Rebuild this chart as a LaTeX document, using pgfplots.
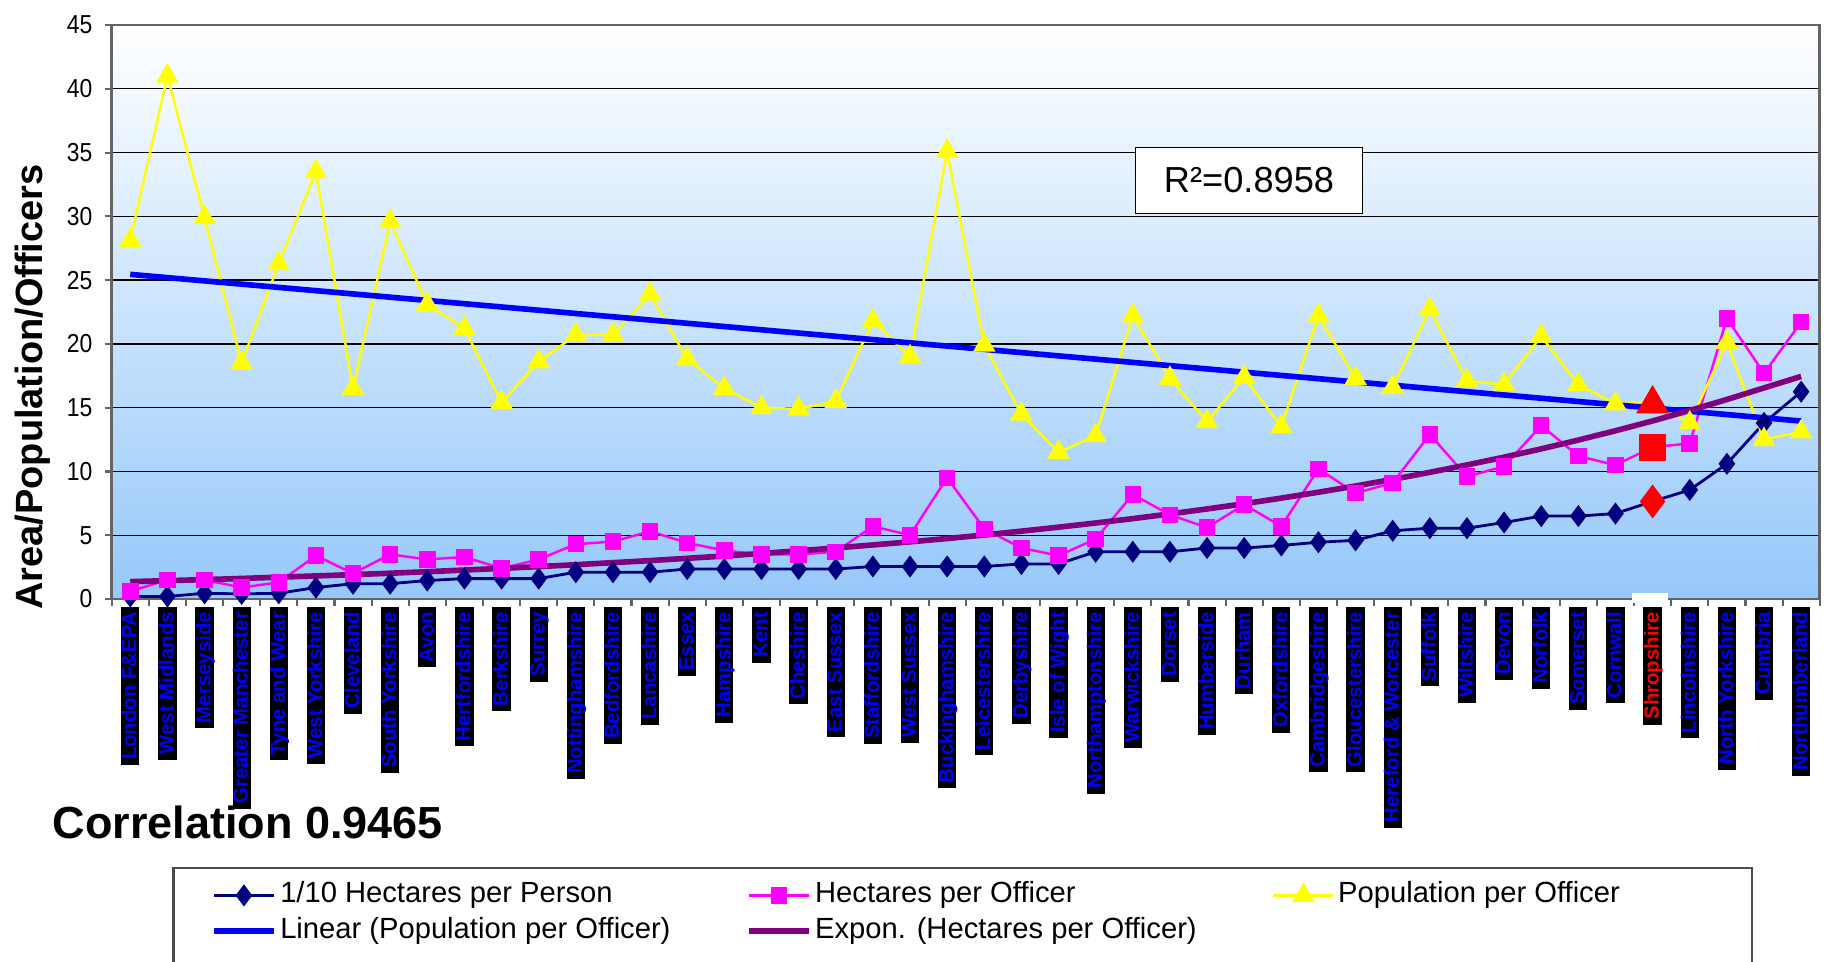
\documentclass[border=0pt]{standalone}
\usepackage{fontspec}
\setmainfont{Liberation Sans}
\newfontfamily\narrowf[FakeStretch=0.88]{Liberation Sans}
\usepackage{pgfplots}
\pgfplotsset{compat=1.18}
\definecolor{navyser}{RGB}{0,0,128}
\definecolor{magser}{RGB}{255,0,255}
\definecolor{yelser}{RGB}{255,255,0}
\definecolor{lintr}{RGB}{0,0,255}
\definecolor{exptr}{RGB}{128,0,128}
\definecolor{bgbot}{RGB}{150,200,250}
\definecolor{axgray}{RGB}{100,100,100}
\begin{document}
\begin{tikzpicture}[x=1cm,y=1cm]
\path[use as bounding box] (0,0) rectangle (18.24,9.61);
\begin{axis}[
  scale only axis, width=17.08cm, height=5.74cm,
  at={(1.117cm,3.62cm)}, anchor=south west,
  xmin=-0.5, xmax=45.5, ymin=0, ymax=45,
  axis background/.style={top color=white, bottom color=bgbot},
  ytick={0,5,...,45},
  xtick={-0.5,0.5,...,45.5},
  x tick label as interval=true,
  xticklabels={London F\&EPA,West Midlands,Merseyside,Greater Manchester,Tyne and Wear,West Yorkshire,Cleveland,South Yorkshire,Avon,Hertfordshire,Berkshire,Surrey,Nottinghamshire,Bedfordshire,Lancashire,Essex,Hampshire,Kent,Cheshire,East Sussex,Staffordshire,West Sussex,Buckinghamshire,Leicestershire,Derbyshire,Isle of Wight,Northamptonshire,Warwickshire,Dorset,Humberside,Durham,Oxfordshire,Cambridgeshire,Gloucestershire,Hereford \& Worcester,Suffolk,Wiltshire,Devon,Norfolk,Somerset,Cornwall,\textcolor{red}{Shropshire},Lincolnshire,North Yorkshire,Cumbria,Northumberland},
  xticklabel style={rotate=90, anchor=east, fill=black, text=blue,
     font=\bfseries\fontsize{5.8}{6}\selectfont, inner xsep=1.5pt, inner ysep=0pt,
     text height=4.3pt, text depth=0.9pt},
  yticklabel style={font=\narrowf\fontsize{7.4}{8}\selectfont},
  /pgf/number format/assume math mode=true,
  ymajorgrids, grid style={black, line width=0.4pt},
  axis line style={axgray, line width=0.7pt},
  tick style={axgray, line width=0.6pt},
  tick align=outside, major tick length=0.07cm,
  xtick pos=bottom, ytick pos=left,
  legend columns=3,
  legend cell align=left,
  legend style={at={(0.0578,-0.484)}, anchor=north west, draw=none, fill=none,
     inner sep=0pt, font=\fontsize{8.3}{10}\selectfont,
     nodes={inner sep=1pt, text height=6.2pt, text depth=2pt},
     /tikz/every even column/.append style={column sep=0.72cm}},
]
\addplot[navyser, line width=0.8pt, mark=diamond*, mark size=2.5pt, mark options={solid, fill=navyser}] coordinates {
(0,0.2)(1,0.2)(2,0.45)(3,0.4)(4,0.45)(5,0.9)(6,1.2)(7,1.2)(8,1.45)(9,1.6)
(10,1.6)(11,1.6)(12,2.1)(13,2.1)(14,2.1)(15,2.35)(16,2.35)(17,2.35)(18,2.35)(19,2.35)
(20,2.55)(21,2.55)(22,2.55)(23,2.55)(24,2.75)(25,2.75)(26,3.7)(27,3.7)(28,3.7)(29,4.0)
(30,4.0)(31,4.2)(32,4.45)(33,4.6)(34,5.35)(35,5.55)(36,5.55)(37,6.0)(38,6.5)(39,6.5)
(40,6.7)(41,7.65)(42,8.55)(43,10.6)(44,13.8)(45,16.25)};
\addlegendentry{1/10 Hectares per Person}
\addplot[magser, line width=0.7pt, mark=square*, mark size=2pt, mark options={solid, fill=magser}] coordinates {
(0,0.6)(1,1.5)(2,1.5)(3,0.9)(4,1.3)(5,3.4)(6,2.0)(7,3.5)(8,3.1)(9,3.3)
(10,2.4)(11,3.1)(12,4.3)(13,4.5)(14,5.3)(15,4.4)(16,3.8)(17,3.5)(18,3.5)(19,3.7)
(20,5.7)(21,5.0)(22,9.5)(23,5.5)(24,4.0)(25,3.4)(26,4.7)(27,8.2)(28,6.6)(29,5.6)
(30,7.4)(31,5.7)(32,10.2)(33,8.3)(34,9.1)(35,12.9)(36,9.6)(37,10.4)(38,13.6)(39,11.2)
(40,10.5)(41,11.9)(42,12.2)(43,22.0)(44,17.7)(45,21.7)};
\addlegendentry{Hectares per Officer}
\addplot[yelser, line width=0.7pt, mark=triangle*, mark size=3pt, mark options={solid, fill=yelser}] coordinates {
(0,28.1)(1,41.0)(2,29.9)(3,18.5)(4,26.3)(5,33.5)(6,16.5)(7,29.6)(8,23.1)(9,21.2)
(10,15.4)(11,18.6)(12,20.7)(13,20.7)(14,23.9)(15,18.8)(16,16.5)(17,15.0)(18,14.9)(19,15.5)
(20,21.8)(21,19.0)(22,35.1)(23,19.9)(24,14.5)(25,11.5)(26,12.8)(27,22.2)(28,17.3)(29,13.9)
(30,17.4)(31,13.5)(32,22.2)(33,17.3)(34,16.6)(35,22.7)(36,17.1)(37,16.8)(38,20.6)(39,16.8)
(40,15.3)(41,15.5)(42,13.8)(43,20.1)(44,12.5)(45,13.1)};
\addlegendentry{Population per Officer}
\addplot[lintr, line width=1.6pt] coordinates {(0,25.45)(45,13.95)};
\addlegendentry{Linear (Population per Officer)}
\addplot[exptr, line width=1.6pt] coordinates {
(0,1.36)(1,1.44)(2,1.52)(3,1.61)(4,1.71)(5,1.81)(6,1.91)(7,2.02)(8,2.14)(9,2.27)
(10,2.40)(11,2.54)(12,2.69)(13,2.85)(14,3.01)(15,3.19)(16,3.37)(17,3.57)(18,3.78)(19,4.00)
(20,4.24)(21,4.48)(22,4.74)(23,5.02)(24,5.32)(25,5.63)(26,5.96)(27,6.30)(28,6.67)(29,7.06)
(30,7.47)(31,7.91)(32,8.37)(33,8.86)(34,9.38)(35,9.93)(36,10.51)(37,11.12)(38,11.77)(39,12.46)
(40,13.19)(41,13.96)(42,14.78)(43,15.64)(44,16.55)(45,17.45)};
\addlegendentry{Expon. (Hectares per Officer)}
\addplot[forget plot, only marks, mark=triangle*, mark size=5pt, red] coordinates {(41,15.3)};
\addplot[forget plot, only marks, mark=square*, mark size=3.6pt, red] coordinates {(41,11.9)};
\addplot[forget plot, only marks, mark=diamond*, mark size=4.5pt, red] coordinates {(41,7.65)};
\end{axis}
\fill[white] (16.32,3.575) rectangle (16.68,3.675);
\node[rotate=90, font=\bfseries\fontsize{10.8}{12}\selectfont] at (0.33,5.74) {Area/Population/Officers};
\node[anchor=base west, font=\bfseries\fontsize{12.8}{14}\selectfont, inner sep=0pt] at (0.52,1.22) {Correlation 0.9465};
\node[draw=black, line width=0.5pt, fill=white, minimum width=2.27cm, minimum height=0.66cm, font=\fontsize{10.3}{12}\selectfont] at (12.49,7.805) {R²=0.8958};
\draw[black!70, line width=0.6pt] (1.735,-0.5) rectangle (17.52,0.93);
\end{tikzpicture}
\end{document}
